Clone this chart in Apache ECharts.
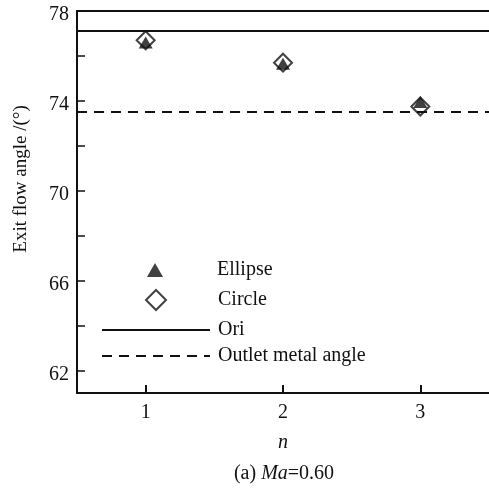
<!DOCTYPE html>
<html>
<head>
<meta charset="utf-8">
<script src="https://cdn.jsdelivr.net/npm/echarts@6/dist/echarts.min.js"></script>
<style>
  html, body { margin: 0; padding: 0; background: #fff; }
  #main { width: 489px; height: 488px; }
</style>
</head>
<body>
<div id="main"></div>
<script>
// n values and exit flow angles (deg)
const nValues = [1, 2, 3];
const ellipseAngle = [76.6, 75.65, 73.95];
const circleAngle = [76.7, 75.7, 73.75];
const oriAngle = 77.1;
const metalAngle = 73.5;
const yTicks = [62, 64, 66, 68, 70, 72, 74, 76, 78];
const yLabels = [62, 66, 70, 74, 78];

const FONT = "Liberation Serif";
const INK = "#111";
const chart = echarts.init(document.getElementById("main"));

const legendText = (pad) => ({
  fontFamily: FONT, fontSize: 20, color: INK, padding: [0, 0, 0, pad]
});

const option = {
  backgroundColor: "#fff",
  animation: false,
  grid: { left: 77, top: 11, right: -8, bottom: 95 },
  title: {
    text: "(a) {i|Ma}=0.60",
    left: 279,
    top: 459,
    textAlign: "center",
    textStyle: {
      fontFamily: FONT, fontSize: 20, fontWeight: "normal", color: INK,
      rich: { i: { fontFamily: FONT, fontSize: 20, fontStyle: "italic", color: INK } }
    }
  },
  legend: [
    {
      left: 142, top: 255, itemWidth: 16, itemHeight: 14,
      textStyle: legendText(49),
      data: ["Ellipse"]
    },
    {
      left: 140, top: 284, itemWidth: 20, itemHeight: 20,
      textStyle: legendText(47),
      data: ["Circle"]
    },
    {
      orient: "vertical",
      left: 96, top: 315, itemWidth: 108, itemHeight: 14, itemGap: 6,
      textStyle: legendText(3),
      data: [
        { name: "Ori", itemStyle: { opacity: 0 } },
        { name: "Outlet metal angle", itemStyle: { opacity: 0 } }
      ]
    }
  ],
  xAxis: [
    {
      type: "value",
      min: 0.5,
      max: 3.5,
      interval: 1,
      name: "n",
      nameLocation: "middle",
      nameGap: 40,
      nameTextStyle: { fontFamily: FONT, fontSize: 20, fontStyle: "italic", color: INK },
      axisLine: { show: true, lineStyle: { color: INK, width: 2 } },
      axisTick: { show: true, inside: true, length: 8, lineStyle: { color: INK, width: 2 },
        customValues: nValues },
      axisLabel: { fontFamily: FONT, fontSize: 20, color: INK, margin: 10, customValues: nValues },
      splitLine: { show: false }
    },
    {
      type: "value",
      position: "top",
      min: 0.5,
      max: 3.5,
      axisLine: { show: true, lineStyle: { color: INK, width: 2 } },
      axisTick: { show: false },
      axisLabel: { show: false },
      splitLine: { show: false }
    }
  ],
  yAxis: {
    type: "value",
    min: 61,
    max: 78,
    axisLine: { show: true, lineStyle: { color: INK, width: 2 } },
    axisTick: { show: true, inside: true, length: 8, lineStyle: { color: INK, width: 1.5 },
      customValues: yTicks },
    axisLabel: { fontFamily: FONT, fontSize: 20, color: INK, margin: 8,
      verticalAlign: "top", lineHeight: 8, customValues: yLabels },
    splitLine: { show: false }
  },
  graphic: [{
    type: "text",
    x: 21,
    y: 179,
    rotation: Math.PI / 2,
    style: {
      text: "Exit flow angle /(°)",
      font: "19px '" + FONT + "'",
      fill: INK,
      align: "center",
      verticalAlign: "middle"
    }
  }],
  series: [
    {
      name: "Ellipse",
      type: "scatter",
      symbol: "triangle",
      symbolSize: [14, 12],
      itemStyle: { color: INK },
      data: nValues.map((n, i) => [n, ellipseAngle[i]]),
      z: 3
    },
    {
      name: "Circle",
      type: "scatter",
      symbol: "diamond",
      symbolSize: [18, 18],
      itemStyle: { color: "rgba(255,255,255,0)", borderColor: INK, borderWidth: 2 },
      data: nValues.map((n, i) => [n, circleAngle[i]]),
      z: 4
    },
    {
      name: "Ori",
      type: "line",
      symbol: "none",
      data: [],
      lineStyle: { color: INK, width: 2, type: "solid" },
      itemStyle: { color: INK, opacity: 0 },
      markLine: {
        silent: true,
        symbol: "none",
        label: { show: false },
        lineStyle: { color: INK, width: 2, type: "solid", opacity: 1 },
        data: [{ yAxis: oriAngle }]
      }
    },
    {
      name: "Outlet metal angle",
      type: "line",
      symbol: "none",
      data: [],
      lineStyle: { color: INK, width: 2, type: [10, 7] },
      itemStyle: { color: INK, opacity: 0 },
      markLine: {
        silent: true,
        symbol: "none",
        label: { show: false },
        lineStyle: { color: INK, width: 2, type: [10, 7], opacity: 1 },
        data: [{ yAxis: metalAngle }]
      }
    }
  ]
};

chart.setOption(option);
</script>
</body>
</html>
